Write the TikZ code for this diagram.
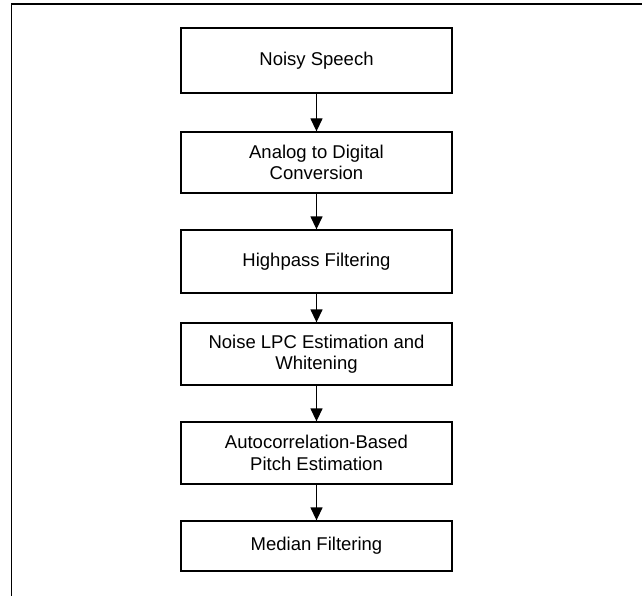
\documentclass[tikz,border=0pt]{standalone}
\usepackage{fontspec}
\setmainfont{Liberation Sans}
\usepackage{tikz}
\usetikzlibrary{arrows.meta}

\tikzset{
  block/.style={draw, line width=1.3pt, minimum width=271pt, align=center,
    inner sep=2pt, font=\fontsize{18.5}{21.5}\selectfont},
  flow/.style={line width=1.3pt, -{Triangle[width=12pt,length=13pt]}}
}

\begin{document}
\begin{tikzpicture}[x=1pt,y=-1pt]
\useasboundingbox (0,0) rectangle (642,596);
\draw[line width=1.3pt] (11.5,596) -- (11.5,4) -- (642,4);
\node[block, minimum height=65pt] (speech) at (316.5,60.5) {Noisy Speech};
\node[block, minimum height=61pt] (adc) at (316.5,162.5) {Analog to Digital\\Conversion};
\node[block, minimum height=63pt] (hpf) at (316.5,261.5) {Highpass Filtering};
\node[block, minimum height=62pt] (lpc) at (316.5,354) {Noise LPC Estimation and\\Whitening};
\node[block, minimum height=62pt] (pitch) at (316.5,453) {Autocorrelation-Based\\Pitch Estimation};
\node[block, minimum height=50pt] (median) at (316.5,546) {Median Filtering};
\draw[flow] (speech) -- (adc);
\draw[flow] (adc) -- (hpf);
\draw[flow] (hpf) -- (lpc);
\draw[flow] (lpc) -- (pitch);
\draw[flow] (pitch) -- (median);
\end{tikzpicture}
\end{document}
